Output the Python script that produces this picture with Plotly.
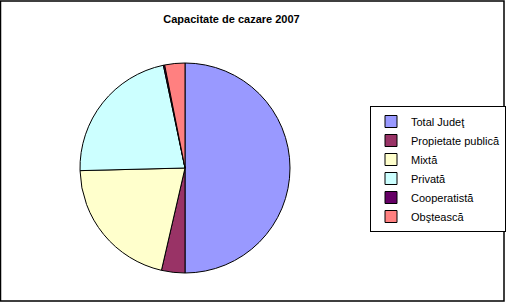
import plotly.graph_objects as go

categories = ["Total Judeţ", "Propietate publică", "Mixtă", "Privată", "Cooperatistă", "Obştească"]
values = [1000, 72, 420, 442, 4, 62]
colors = ["#9999FF", "#993366", "#FFFFCC", "#CCFFFF", "#660066", "#FF8080"]

W, H = 506, 302
FONT = "Arial, Liberation Sans, sans-serif"

fig = go.Figure(go.Pie(
    labels=categories,
    values=values,
    sort=False,
    direction="clockwise",
    rotation=0,
    textinfo="none",
    hoverinfo="label+value+percent",
    marker=dict(colors=colors, line=dict(color="black", width=1)),
    domain=dict(x=[80 / W, 290 / W], y=[(H - 273) / H, (H - 63) / H]),
))

fig.update_layout(
    width=W, height=H,
    margin=dict(l=0, r=0, t=0, b=0),
    paper_bgcolor="white",
    plot_bgcolor="white",
    font=dict(family=FONT, size=11, color="black"),
    title=dict(text="<b>Capacitate de cazare 2007</b>", x=231.5 / W, xanchor="center",
               y=1 - 19 / H, yanchor="middle", font=dict(family=FONT, size=11, color="black")),
    legend=dict(x=370 / W, y=1 - 106 / H, xanchor="left", yanchor="top",
                bordercolor="black", borderwidth=1, bgcolor="white",
                font=dict(family=FONT, size=11, color="black"), itemwidth=30),
    shapes=[dict(type="rect", xref="paper", yref="paper", x0=0.5 / W, x1=504 / W,
                 y0=1 - 301 / H, y1=1 - 1 / H, line=dict(color="black", width=1.5))],
)

fig.write_html("out.html")
